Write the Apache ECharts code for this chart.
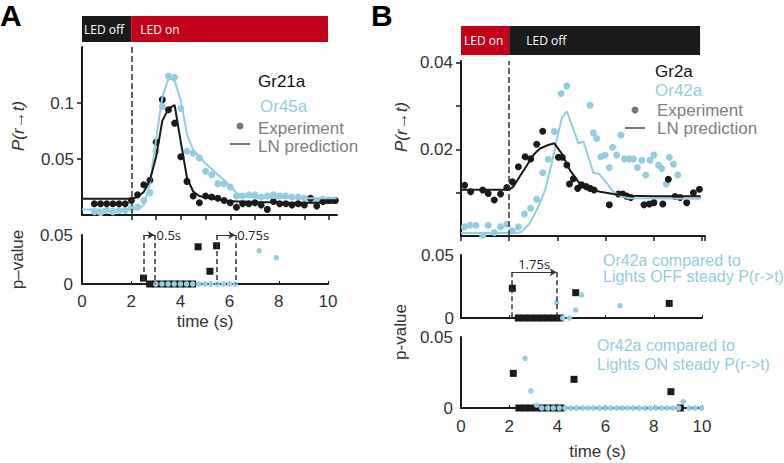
<!DOCTYPE html>
<html>
<head>
<meta charset="utf-8">
<script src="https://cdn.jsdelivr.net/npm/echarts@6.0.0/dist/echarts.min.js"></script>
<style>
html, body { margin: 0; padding: 0; background: #fff; }
#main { width: 784px; height: 463px; }
</style>
</head>
<body>
<div id="main"></div>
<script>
var chart = echarts.init(document.getElementById('main'), null, { renderer: 'svg' });

var FONT = "'Liberation Sans', Arial, sans-serif";
var LEDFONT = "'Open Sans', 'Noto Sans', sans-serif";
var BLACK = '#1a1a1a', BLUE = '#94cce0', GRAY = '#808080', RED = '#c3001a';

// ---- panel A : Gr21a / Or45a, LED switched on at 2 s ----
var tA = [0.5, 0.75, 1, 1.25, 1.5, 1.75, 2, 2.25, 2.5, 2.75, 3, 3.25, 3.5, 3.75, 4, 4.25, 4.5, 4.75, 5, 5.25,
    5.5, 5.75, 6, 6.25, 6.5, 6.75, 7, 7.25, 7.5, 7.75, 8, 8.25, 8.5, 8.75, 9, 9.25, 9.5, 9.75, 10, 10.25];
var gr21a = [0.010, 0.010, 0.010, 0.010, 0.010, 0.010, 0.013, 0.018, 0.027, 0.031, 0.065, 0.103, 0.094, 0.082, 0.052, 0.030, 0.017, 0.011, 0.017, 0.016,
    0.015, 0.013, 0.011, 0.007, 0.010, 0.010, 0.011, 0.009, 0.005, 0.012, 0.010, 0.010, 0.009, 0.010, 0.009, 0.015, 0.008, 0.012, 0.013, 0.013];
var or45a = [0.003, 0.002, 0.004, 0.003, 0.004, 0.004, 0.006, 0.007, 0.013, 0.020, 0.057, 0.097, 0.124, 0.123, 0.095, 0.057, 0.055, 0.051, 0.039, 0.036,
    0.028, 0.028, 0.025, 0.017, 0.017, 0.018, 0.018, 0.016, 0.017, 0.018, 0.017, 0.017, 0.016, 0.016, 0.015, 0.013, 0.013, 0.014, 0.013, 0.013];

// LN prediction
var tLnA = [0, 1, 2, 2.25, 2.5, 2.75, 3, 3.25, 3.5, 3.75, 4, 4.25, 4.5, 4.75, 5, 5.25, 5.5, 5.75, 6, 6.25, 6.5, 7, 8, 9, 10.3];
var gr21aLn = [0.0145, 0.0145, 0.0145, 0.016, 0.0205, 0.031, 0.052, 0.084, 0.095, 0.098, 0.065, 0.033, 0.021, 0.017, 0.0155, 0.0145, 0.014, 0.013, 0.0125, 0.012, 0.012, 0.0115, 0.0112, 0.011, 0.011];
var or45aLn = [0.005, 0.005, 0.005, 0.005, 0.009, 0.028, 0.068, 0.105, 0.122, 0.120, 0.102, 0.072, 0.058, 0.052, 0.046, 0.041, 0.036, 0.031, 0.026, 0.020, 0.017, 0.0155, 0.0152, 0.015, 0.015];

// p-values
var tPvGr21a = [2.5, 2.75, 3, 3.25, 3.5, 3.75, 4, 4.25, 4.5, 4.72, 5.2, 5.47];
var pvGr21a = [0.006, 0, 0, 0, 0, 0, 0, 0, 0, 0.038, 0.013, 0.039];
var tPvOr45a = [3, 3.25, 3.5, 3.75, 4, 4.25, 4.5, 4.75, 5, 5.25, 5.5, 5.75, 6, 6.23, 7.2, 7.9];
var pvOr45a = [0, 0, 0, 0, 0, 0, 0, 0, 0, 0, 0, 0, 0, 0, 0.034, 0.027];

// ---- panel B : Gr2a / Or42a, LED switched off at 2 s ----
var tGr2a = [0.15, 0.4, 0.9, 1.13, 1.38, 1.64, 1.9, 2.13, 2.38, 2.66, 2.89, 3.14, 3.39, 4.04, 4.2, 4.39, 4.5, 4.66, 4.84, 5.0,
    5.19, 5.35, 5.52, 6.15, 6.53, 6.71, 6.87, 7.04, 7.59, 7.81, 8.0, 8.37, 8.6, 8.88, 9.09, 9.36, 9.64, 9.89];
var gr2a = [0.0117, 0.0102, 0.0106, 0.0098, 0.0083, 0.0097, 0.0112, 0.0125, 0.016, 0.0183, 0.0178, 0.0212, 0.0242, 0.0182, 0.0182, 0.0164, 0.012, 0.0132, 0.011, 0.0118,
    0.0114, 0.011, 0.0106, 0.0072, 0.0097, 0.0097, 0.0092, 0.0089, 0.0072, 0.0074, 0.0077, 0.0074, 0.0131, 0.0091, 0.0089, 0.0077, 0.010, 0.0108];
var tOr42a = [0.14, 0.37, 0.62, 0.9, 1.13, 1.38, 1.64, 1.9, 2.13, 2.38, 2.63, 2.89, 3.14, 3.39, 3.62, 3.87, 4.15, 4.39, 5.35, 5.49,
    5.63, 5.8, 5.98, 6.15, 6.29, 6.46, 6.63, 6.78, 6.98, 7.15, 7.32, 7.5, 7.66, 7.84, 8.0, 8.19, 8.33, 8.51, 8.64, 8.81, 8.99];
var or42a = [0.0021, 0.0025, 0.0025, 0.0002, 0.0025, 0.0008, 0.0021, 0.0027, 0.0012, 0.0021, 0.0051, 0.0064, 0.0085, 0.0146, 0.0177, 0.0241, 0.0329, 0.0346, 0.0302, 0.0238,
    0.0225, 0.0183, 0.0187, 0.0158, 0.0205, 0.0187, 0.0233, 0.0178, 0.0178, 0.0178, 0.0158, 0.0175, 0.0141, 0.0175, 0.0187, 0.0164, 0.0156, 0.012, 0.0182, 0.0166, 0.0141];

var tGr2aLn = [0, 2, 2.17, 2.35, 2.52, 2.7, 2.86, 3.05, 3.28, 3.62, 3.87, 4.18, 4.52, 4.87, 5.21, 5.77, 6.32, 7, 8, 9.94];
var gr2aLn = [0.0107, 0.0107, 0.0114, 0.013, 0.0145, 0.016, 0.0175, 0.019, 0.0202, 0.021, 0.0214, 0.019, 0.0152, 0.0125, 0.011, 0.0102, 0.0097, 0.0093, 0.0092, 0.0092];
var tOr42aLn = [0, 2.3, 2.52, 2.86, 3.21, 3.49, 3.76, 3.97, 4.18, 4.39, 4.87, 5.08, 5.49, 5.74, 6.05, 6.32, 6.67, 7, 9.94];
var or42aLn = [0.0007, 0.0007, 0.001, 0.003, 0.0068, 0.0106, 0.0168, 0.0222, 0.0272, 0.0288, 0.0214, 0.0218, 0.0146, 0.0143, 0.0122, 0.0102, 0.0091, 0.0087, 0.0086];

// p-values vs lights OFF steady state
var tPvOffGr2a = [2.13, 2.38, 2.63, 2.89, 3.14, 3.39, 3.62, 3.87, 4.12, 4.76, 8.64];
var pvOffGr2a = [0.0236, 0, 0, 0, 0, 0, 0, 0, 0, 0.0201, 0.0116];
var tPvOffOr42a = [3.97, 4.22, 4.5, 4.76, 5.0, 6.6];
var pvOffOr42a = [0.0122, 0, 0, 0.0063, 0.0183, 0.0098];
// p-values vs lights ON steady state
var tPvOnGr2a = [2.17, 2.4, 2.65, 2.9, 3.15, 3.4, 3.65, 3.9, 4.15, 4.69, 8.71, 9.1];
var pvOnGr2a = [0.0244, 0, 0, 0, 0, 0, 0, 0, 0, 0.0202, 0.0115, 0];
var tPvOnOr42a = [2.66, 2.9, 3.14, 3.35, 3.6, 3.83, 4.08, 4.32, 4.56, 4.8, 5.04, 5.27, 5.5, 5.74, 5.98, 6.21, 6.45, 6.68, 6.92, 7.15,
    7.39, 7.62, 7.86, 8.09, 8.33, 8.56, 8.8, 9.03, 9.22, 9.47, 9.72, 9.98];
var pvOnOr42a = [0.035, 0.012, 0.002, 0, 0, 0, 0, 0, 0, 0, 0, 0, 0, 0, 0, 0, 0, 0, 0, 0,
    0, 0, 0, 0, 0, 0, 0, 0, 0.0045, 0, 0, 0];

// LED protocol bars (label, duration in s)
var ledA = [['LED off', 2], ['LED on', 8]];
var ledB = [['LED on', 2], ['LED off', 7.92]];

function zip(ts, vs) {
    return ts.map(function (t, i) { return [t, vs[i]]; });
}

var axLine = { lineStyle: { color: BLACK, width: 2 } };
var tickLbl = { color: '#333', fontSize: 17, fontFamily: FONT };
var nameStyle = { color: '#333', fontSize: 17, fontFamily: FONT };

function dots(name, ts, vs, color, size, g, sym) {
    return {
        name: name, type: 'scatter', xAxisIndex: g, yAxisIndex: g,
        symbol: sym || 'circle', symbolSize: size, clip: false,
        itemStyle: { color: color, opacity: 1 },
        data: zip(ts, vs)
    };
}
function curve(name, ts, vs, color, g) {
    return {
        name: name, type: 'line', xAxisIndex: g, yAxisIndex: g,
        showSymbol: false, symbol: 'none', clip: false,
        lineStyle: { color: color, width: 2 },
        data: zip(ts, vs)
    };
}
function led(item, color, g, dist) {
    return {
        type: 'bar', xAxisIndex: g, yAxisIndex: g, stack: 'led' + g, barWidth: '100%', silent: true,
        itemStyle: { color: color },
        label: { show: true, position: 'insideLeft', distance: dist, formatter: item[0], color: '#fff', fontSize: 12, fontFamily: LEDFONT },
        data: [item[1]]
    };
}
// dashed line at the light switch
var stim = {
    silent: true, symbol: ['none', 'none'], label: { show: false },
    lineStyle: { type: 'dashed', color: '#333', width: 1.5 },
    data: [{ xAxis: 2 }]
};
// dashed delay markers with arrow
function delay(t0, t1, top, text, pos) {
    var dash = { type: [5, 3], color: '#333', width: 1.5 };
    return [
        [{ coord: [t0, top], lineStyle: dash }, { coord: [t0, 0] }],
        [{ coord: [t1, top], lineStyle: dash }, { coord: [t1, 0] }],
        [{ coord: [t0, top], lineStyle: { type: 'solid', color: '#333', width: 1 },
           label: { show: true, position: pos, formatter: text, distance: 2, color: '#222', fontSize: 13, fontFamily: LEDFONT } },
         { coord: [t1, top], symbol: 'arrow', symbolSize: [6, 7] }]
    ];
}
function marks(list) {
    return { silent: true, symbol: ['none', 'none'], label: { show: false }, data: list };
}
function vtext(text, x, y, italic) {
    return {
        type: 'text', x: x, y: y, rotation: Math.PI / 2,
        style: { text: text, fill: '#333', fontSize: 17, fontFamily: FONT, fontStyle: italic ? 'italic' : 'normal',
                 align: 'center', verticalAlign: 'middle' }
    };
}

var option = {
    animation: false,
    title: [
        { text: 'A', left: 0, top: 0, padding: 0, textStyle: { fontSize: 30, fontWeight: 'bold', color: '#000', fontFamily: FONT } },
        { text: 'B', left: 371, top: 0, padding: 0, textStyle: { fontSize: 30, fontWeight: 'bold', color: '#000', fontFamily: FONT } }
    ],
    grid: [
        { left: 82, top: 47, width: 255, height: 168 },
        { left: 82, top: 16, width: 246, height: 26 },
        { left: 82, top: 235, width: 246, height: 49 },
        { left: 461, top: 61, width: 244, height: 175 },
        { left: 461, top: 26, width: 241, height: 29 },
        { left: 461, top: 255, width: 241, height: 63 },
        { left: 461, top: 337, width: 241, height: 71 }
    ],
    xAxis: [
        { gridIndex: 0, type: 'value', min: 0, max: 10.32, axisLine: axLine, splitLine: { show: false }, axisLabel: { show: false },
          axisTick: { customValues: [2, 3, 4, 5, 6, 7, 8, 9, 10], length: 5, lineStyle: { color: BLACK, width: 1.5 } } },
        { gridIndex: 1, type: 'value', min: 0, max: 10, show: false },
        { gridIndex: 2, type: 'value', min: 0, max: 10, interval: 2, axisLine: axLine, splitLine: { show: false },
          axisTick: { inside: true, length: 3, lineStyle: { color: BLACK } },
          axisLabel: Object.assign({ margin: 9 }, tickLbl),
          name: 'time (s)', nameLocation: 'middle', nameGap: 29, nameTextStyle: nameStyle },
        { gridIndex: 3, type: 'value', min: 0, max: 10.12, interval: 2, axisLine: axLine, splitLine: { show: false }, axisLabel: { show: false },
          axisTick: { length: 5, lineStyle: { color: BLACK, width: 1.5 } } },
        { gridIndex: 4, type: 'value', min: 0, max: 10, show: false },
        { gridIndex: 5, type: 'value', min: 0, max: 10, interval: 2, axisLine: axLine, splitLine: { show: false }, axisLabel: { show: false },
          axisTick: { inside: true, length: 3, lineStyle: { color: BLACK } } },
        { gridIndex: 6, type: 'value', min: 0, max: 10, interval: 2, axisLine: axLine, splitLine: { show: false },
          axisTick: { inside: true, length: 3, lineStyle: { color: BLACK } },
          axisLabel: Object.assign({ margin: 10 }, tickLbl),
          name: 'time (s)', nameLocation: 'middle', nameGap: 35, nameTextStyle: Object.assign({ padding: [0, 0, 0, 32] }, nameStyle) }
    ],
    yAxis: [
        { gridIndex: 0, type: 'value', min: 0, max: 0.15, axisLine: axLine, splitLine: { show: false },
          axisTick: { customValues: [0.05, 0.1], length: 5, lineStyle: { color: BLACK, width: 1.5 } },
          axisLabel: Object.assign({ customValues: [0.05, 0.1], margin: 8 }, tickLbl) },
        { gridIndex: 1, type: 'category', data: ['LED'], show: false },
        { gridIndex: 2, type: 'value', min: 0, max: 0.05, axisLine: axLine, splitLine: { show: false },
          axisTick: { show: false },
          axisLabel: Object.assign({ customValues: [0, 0.05], margin: 9 }, tickLbl),
          name: 'p–value', nameLocation: 'middle', nameGap: 56, nameTextStyle: nameStyle },
        { gridIndex: 3, type: 'value', min: 0, max: 0.0404, axisLine: axLine, splitLine: { show: false },
          axisTick: { customValues: [0.01, 0.02, 0.03, 0.04], length: 5, lineStyle: { color: BLACK, width: 1.5 } },
          axisLabel: Object.assign({ customValues: [0.02, 0.04], margin: 8 }, tickLbl) },
        { gridIndex: 4, type: 'category', data: ['LED'], show: false },
        { gridIndex: 5, type: 'value', min: 0, max: 0.05, axisLine: axLine, splitLine: { show: false },
          axisTick: { show: false },
          axisLabel: Object.assign({ customValues: [0, 0.05], margin: 7 }, tickLbl) },
        { gridIndex: 6, type: 'value', min: 0, max: 0.05, axisLine: axLine, splitLine: { show: false },
          axisTick: { show: false },
          axisLabel: Object.assign({ customValues: [0, 0.05], margin: 8 }, tickLbl) }
    ],
    graphic: [
        // y titles
        vtext('P(r→t)', 18, 126, true),
        vtext('P(r→t)', 401, 127, true),
        vtext('p-value', 400, 332, false),
        // panel A legend
        { type: 'text', left: 258, top: 73, style: { text: 'Gr21a', fill: '#111', fontSize: 17, fontFamily: FONT } },
        { type: 'text', left: 260, top: 98, style: { text: 'Or45a', fill: BLUE, fontSize: 17, fontFamily: FONT } },
        { type: 'circle', shape: { cx: 240, cy: 126, r: 3.5 }, style: { fill: '#777' } },
        { type: 'text', left: 258, top: 120, style: { text: 'Experiment', fill: GRAY, fontSize: 17, fontFamily: FONT } },
        { type: 'line', shape: { x1: 230, y1: 144, x2: 250, y2: 144 }, style: { stroke: '#777', lineWidth: 2 } },
        { type: 'text', left: 258, top: 138, style: { text: 'LN prediction', fill: GRAY, fontSize: 17, fontFamily: FONT } },
        // panel B legend
        { type: 'text', left: 655, top: 63, style: { text: 'Gr2a', fill: '#111', fontSize: 17, fontFamily: FONT } },
        { type: 'text', left: 655, top: 82, style: { text: 'Or42a', fill: BLUE, fontSize: 17, fontFamily: FONT } },
        { type: 'circle', shape: { cx: 635, cy: 110, r: 3.5 }, style: { fill: '#777' } },
        { type: 'text', left: 657, top: 102, style: { text: 'Experiment', fill: GRAY, fontSize: 17, fontFamily: FONT } },
        { type: 'line', shape: { x1: 625, y1: 128, x2: 645, y2: 128 }, style: { stroke: '#777', lineWidth: 2 } },
        { type: 'text', left: 657, top: 120, style: { text: 'LN prediction', fill: GRAY, fontSize: 17, fontFamily: FONT } },
        // panel B p-value notes
        { type: 'text', left: 603, top: 252, style: { text: 'Or42a compared to', fill: BLUE, fontSize: 16, fontFamily: FONT } },
        { type: 'text', left: 603, top: 268, style: { text: 'Lights OFF steady P(r->t)', fill: BLUE, fontSize: 16, fontFamily: FONT } },
        { type: 'text', left: 597, top: 337, style: { text: 'Or42a compared to', fill: BLUE, fontSize: 16, fontFamily: FONT } },
        { type: 'text', left: 597, top: 356, style: { text: 'Lights ON steady P(r->t)', fill: BLUE, fontSize: 16, fontFamily: FONT } }
    ],
    series: [
        // A top
        dots('Or45a', tA, or45a, BLUE, 7, 0),
        curve('Or45a LN', tLnA, or45aLn, BLUE, 0),
        dots('Gr21a', tA, gr21a, BLACK, 7, 0),
        Object.assign(curve('Gr21a LN', tLnA, gr21aLn, BLACK, 0), { markLine: stim }),
        // A LED
        led(ledA[0], BLACK, 1, 2),
        led(ledA[1], RED, 1, 9),
        // A p-values
        Object.assign(dots('Gr21a p', tPvGr21a, pvGr21a, BLACK, 7, 2, 'rect'),
            { markLine: marks(delay(2.5, 2.95, 0.05, '0.5s', 'end').concat(delay(5.47, 6.23, 0.05, '0.75s', 'end'))) }),
        dots('Or45a p', tPvOr45a, pvOr45a, BLUE, 5.5, 2),
        // B top
        dots('Or42a', tOr42a, or42a, BLUE, 7, 3),
        curve('Or42a LN', tOr42aLn, or42aLn, BLUE, 3),
        dots('Gr2a', tGr2a, gr2a, BLACK, 7, 3),
        Object.assign(curve('Gr2a LN', tGr2aLn, gr2aLn, BLACK, 3), { markLine: stim }),
        // B LED
        led(ledB[0], RED, 4, 3),
        led(ledB[1], BLACK, 4, 17),
        // B p-values vs OFF
        Object.assign(dots('Gr2a p off', tPvOffGr2a, pvOffGr2a, BLACK, 7, 5, 'rect'),
            { markLine: marks(delay(2.1, 3.97, 0.0363, '1.75s', 'insideMiddleTop')) }),
        dots('Or42a p off', tPvOffOr42a, pvOffOr42a, BLUE, 5.5, 5),
        // B p-values vs ON
        dots('Gr2a p on', tPvOnGr2a, pvOnGr2a, BLACK, 7, 6, 'rect'),
        dots('Or42a p on', tPvOnOr42a, pvOnOr42a, BLUE, 5.5, 6)
    ]
};

chart.setOption(option);
</script>
</body>
</html>
